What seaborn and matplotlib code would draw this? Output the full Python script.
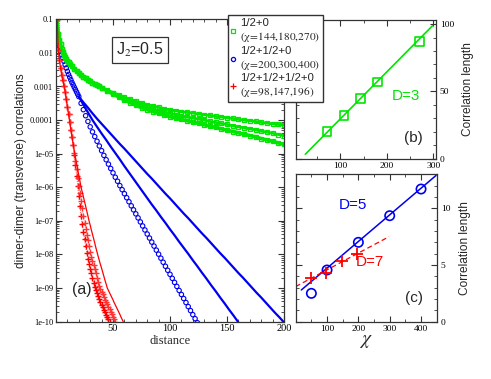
import numpy as np
import matplotlib
matplotlib.use("Agg")
import matplotlib.pyplot as plt
import seaborn as sns
from matplotlib.ticker import FixedLocator, MultipleLocator, LogLocator, NullFormatter
from matplotlib.lines import Line2D

# ---------------- panel (a): log10 of correlations
green_head_d = [1, 2, 3, 4, 5, 6, 7, 8, 9, 10, 11, 12, 14, 16, 18, 20, 22, 24, 26, 28, 30, 32, 34, 36, 38, 40]
green_head = [-1.0, -1.45, -1.62, -1.75, -1.88, -1.98, -2.05, -2.12, -2.18, -2.23, -2.28, -2.32, -2.40, -2.47,
              -2.54, -2.60, -2.66, -2.71, -2.76, -2.81, -2.85, -2.89, -2.93, -2.97, -3.0, -3.03]
green_tail_d = [45, 50, 55, 60, 65, 70, 75, 80, 85, 90, 95, 100, 105, 110, 115, 120, 125, 130, 135, 140,
                145, 150, 155, 160, 165, 170, 175, 180, 185, 190, 195, 200]
green_270 = [-3.11, -3.18, -3.25, -3.32, -3.38, -3.44, -3.49, -3.54, -3.58, -3.62, -3.66, -3.70, -3.72, -3.75,
             -3.77, -3.79, -3.82, -3.84, -3.86, -3.89, -3.91, -3.93, -3.95, -3.98, -4.00, -4.02, -4.04, -4.07,
             -4.09, -4.11, -4.13, -4.15]
green_180 = [-3.12, -3.20, -3.28, -3.36, -3.43, -3.50, -3.56, -3.62, -3.67, -3.72, -3.76, -3.80, -3.84, -3.87,
             -3.91, -3.94, -3.97, -4.00, -4.04, -4.07, -4.10, -4.13, -4.17, -4.20, -4.23, -4.26, -4.29, -4.33,
             -4.36, -4.39, -4.43, -4.46]
green_144 = [-3.13, -3.22, -3.31, -3.40, -3.48, -3.56, -3.63, -3.69, -3.75, -3.80, -3.85, -3.90, -3.94, -3.98,
             -4.02, -4.06, -4.10, -4.14, -4.18, -4.22, -4.26, -4.30, -4.34, -4.38, -4.42, -4.46, -4.50, -4.55,
             -4.59, -4.63, -4.68, -4.72]

blue_head_d = [1, 2, 3, 4, 5, 6, 7, 8, 9, 10, 11, 12, 13, 14, 15, 16, 17, 18, 19, 20]
blue_head = [-1.0, -1.6, -1.8, -1.95, -2.05, -2.15, -2.25, -2.35, -2.45, -2.55, -2.64, -2.72, -2.80, -2.88,
             -2.95, -3.02, -3.09, -3.16, -3.23, -3.30]
blue_200_d = [22, 24, 26, 28, 30, 32, 34, 36, 38, 40, 42, 44, 46, 48, 50, 52, 54, 56, 58, 60, 62, 64, 66, 68,
              70, 72, 74, 76, 78, 80, 82, 84, 86, 88, 90, 92, 94, 96, 98, 100, 102, 104, 106, 108, 110, 112,
              114, 116, 118, 120, 122, 124]
blue_200 = [-3.50, -3.69, -3.87, -4.04, -4.20, -4.35, -4.49, -4.63, -4.77, -4.91, -5.05, -5.18, -5.31, -5.44,
            -5.57, -5.70, -5.82, -5.95, -6.07, -6.19, -6.31, -6.43, -6.55, -6.67, -6.79, -6.91, -7.03, -7.15,
            -7.27, -7.39, -7.51, -7.63, -7.75, -7.87, -7.99, -8.11, -8.23, -8.35, -8.47, -8.59, -8.71, -8.83,
            -8.95, -9.07, -9.19, -9.31, -9.43, -9.55, -9.67, -9.79, -9.91, -10.03]
blue_300_d = [24, 28, 32, 36, 40, 44, 48, 52, 56, 60, 64, 68, 72, 76, 80, 84, 88, 92, 96, 100, 104, 108, 112,
              116, 120, 124, 128, 132, 136, 140, 144, 148, 152, 156, 160]
blue_300 = [-3.54, -3.77, -4.0, -4.2, -4.4, -4.59, -4.79, -4.98, -5.17, -5.37, -5.56, -5.75, -5.94, -6.13,
            -6.32, -6.51, -6.69, -6.88, -7.06, -7.25, -7.43, -7.62, -7.80, -7.98, -8.17, -8.35, -8.54, -8.72,
            -8.91, -9.09, -9.28, -9.46, -9.65, -9.83, -10.02]
blue_400_d = [24, 28, 32, 36, 40, 44, 48, 52, 56, 60, 64, 68, 72, 76, 80, 84, 88, 92, 96, 100, 104, 108, 112,
              116, 120, 124, 128, 132, 136, 140, 144, 148, 152, 156, 160, 164, 168, 172, 176, 180, 184, 188,
              192, 196, 200]
blue_400 = [-3.47, -3.63, -3.8, -3.96, -4.11, -4.26, -4.41, -4.56, -4.71, -4.85, -5.0, -5.15, -5.30, -5.45,
            -5.6, -5.74, -5.89, -6.04, -6.19, -6.33, -6.48, -6.63, -6.78, -6.92, -7.07, -7.22, -7.37, -7.51,
            -7.66, -7.81, -7.96, -8.10, -8.25, -8.40, -8.55, -8.69, -8.84, -8.99, -9.14, -9.28, -9.43, -9.58,
            -9.73, -9.87, -10.02]

red_head_d = [1, 2, 3, 4, 5, 6, 7, 8, 9, 10, 11, 12, 13, 14]
red_head = [-1.0, -1.9, -2.2, -2.45, -2.65, -2.82, -2.98, -3.15, -3.38, -3.6, -3.82, -4.05, -4.28, -4.5]
red_98_d = list(range(15, 48))
red_98 = [-4.75, -5.05, -5.35, -5.65, -5.95, -6.25, -6.55, -6.85, -7.1, -7.32, -7.54, -7.76, -7.97, -8.12,
          -8.27, -8.42, -8.56, -8.7, -8.84, -8.97, -9.07, -9.16, -9.25, -9.33, -9.41, -9.49, -9.57, -9.65,
          -9.72, -9.79, -9.86, -9.93, -10.0]
red_147_d = list(range(15, 53))
red_147 = [-4.73, -4.98, -5.22, -5.47, -5.72, -5.96, -6.18, -6.41, -6.63, -6.85, -7.06, -7.24, -7.41, -7.58,
           -7.75, -7.92, -8.06, -8.19, -8.31, -8.44, -8.56, -8.69, -8.81, -8.94, -9.04, -9.11, -9.19, -9.26,
           -9.34, -9.41, -9.48, -9.56, -9.63, -9.70, -9.78, -9.85, -9.93, -10.0]
red_196_d = list(range(15, 60))
red_196 = [-4.70, -4.9, -5.1, -5.28, -5.46, -5.64, -5.82, -6.0, -6.14, -6.28, -6.42, -6.56, -6.71, -6.85, -7.0,
           -7.13, -7.27, -7.4, -7.53, -7.66, -7.8, -7.93, -8.06, -8.18, -8.3, -8.41, -8.53, -8.65, -8.77,
           -8.88, -9.0, -9.07, -9.14, -9.21, -9.28, -9.35, -9.43, -9.5, -9.57, -9.64, -9.71, -9.78, -9.86,
           -9.93, -10.0]

y_tick_labels = ["1e-10", "1e-09", "1e-08", "1e-07", "1e-06", "1e-05", "0.0001", "0.001", "0.01", "0.1"]
legend_labels = ["1/2+0\n" + r"$\mathrm{(\chi\!=\!144{,}180{,}270)}$",
                 "1/2+1/2+0\n" + r"$\mathrm{(\chi\!=\!200{,}300{,}400)}$",
                 "1/2+1/2+1/2+0\n" + r"$\mathrm{(\chi\!=\!98{,}147{,}196)}$"]

# ---------------- panel (b): D=3
chi_b = [72, 108, 144, 180, 270]
xi_b = [20.1, 32.0, 44.5, 57.0, 86.9]
fit_b_x = [25, 298]
fit_b_y = [3.3, 98.7]

# ---------------- panel (c): D=5 and D=7
chi_c5 = [50, 100, 200, 300, 400]
xi_c5 = [2.5, 4.56, 7.0, 9.35, 11.7]
fit_c5_x = [18, 448]
fit_c5_y = [2.8, 12.9]
chi_c7 = [49, 98, 147, 196]
xi_c7 = [3.83, 4.3, 5.36, 5.97]
fit_c7_x = [0, 298]
fit_c7_y = [3.1, 7.5]

GREEN = "#00e600"
BLUE = "#0000f0"
RED = "#ff0000"
FRAME = "#333333"

sns.set_style("ticks")
plt.rcParams["font.family"] = ["Liberation Sans", "DejaVu Sans"]
plt.rcParams["mathtext.fontset"] = "stix"
plt.rcParams["axes.edgecolor"] = FRAME
plt.rcParams["axes.linewidth"] = 0.9
plt.rcParams["xtick.color"] = FRAME
plt.rcParams["ytick.color"] = FRAME
plt.rcParams["xtick.labelcolor"] = "black"
plt.rcParams["ytick.labelcolor"] = "black"

W, H = 491, 379
fig = plt.figure(figsize=(W / 100, H / 100), dpi=100)


def box(l, t, r, b):
    return [l / W, 1 - b / H, (r - l) / W, (b - t) / H]


ax = fig.add_axes(box(56, 19.3, 284, 321.7))
axb = fig.add_axes(box(296, 20, 435.7, 158.7))
axc = fig.add_axes(box(295.7, 174.3, 436.7, 321.7))


def curve(d, logc, color, **kw):
    sns.lineplot(x=d, y=10.0 ** np.asarray(logc), ax=ax, color=color, estimator=None, sort=False, **kw)


# green
for tail, lw in [(green_270, 2.0), (green_180, 2.0), (green_144, 2.6)]:
    curve(green_head_d + green_tail_d, green_head + tail, GREEN, lw=lw, marker="s", ms=2.6,
          mfc="none", mec=GREEN, mew=0.9)
# blue
sns.scatterplot(x=blue_head_d + blue_200_d, y=10.0 ** np.asarray(blue_head + blue_200), ax=ax,
                marker="o", s=10, facecolor="none", edgecolor=BLUE, linewidth=0.8)
curve(blue_head_d[-1:] + blue_300_d, blue_head[-1:] + blue_300, BLUE, lw=1.6)
curve(blue_head_d[-1:] + blue_400_d, blue_head[-1:] + blue_400, BLUE, lw=1.6)
# red
curve(red_head_d + red_98_d, red_head + red_98, RED, lw=0.6, ls=":", marker="+", ms=3.8, mew=1.0, mec=RED)
curve(red_head_d + red_147_d, red_head + red_147, "#ff5555", lw=0.6, ls=":", marker="+", ms=3.8, mew=1.0,
      mec="#ff3333")
curve(red_head_d + red_196_d, red_head + red_196, RED, lw=0.9)

ax.set_yscale("log")
ax.set_xlim(0, 200)
ax.set_ylim(1e-10, 0.1)
ax.yaxis.set_major_locator(FixedLocator([10.0 ** k for k in range(-10, 0)]))
ax.set_yticklabels(y_tick_labels, family="Liberation Serif", fontsize=6)
ax.yaxis.set_minor_locator(LogLocator(base=10, subs=np.arange(2, 10), numticks=20))
ax.yaxis.set_minor_formatter(NullFormatter())
ax.xaxis.set_major_locator(FixedLocator([50, 100, 150, 200]))
ax.xaxis.set_minor_locator(MultipleLocator(10))
ax.set_xticklabels(["50", "100", "150", "200"], family="Liberation Serif", fontsize=7.5)
ax.tick_params(which="both", direction="in", top=True, right=True)
ax.tick_params(which="major", length=4, width=0.8, pad=2)
ax.tick_params(which="minor", length=2, width=0.6)
ax.set_xlabel("distance", family="Liberation Serif", fontsize=9, labelpad=1)
ax.set_ylabel("dimer-dimer (transverse) correlations", fontsize=8.6, labelpad=2)
ax.text(0.113, 0.108, "(a)", transform=ax.transAxes, fontsize=11.5, ha="center", va="center")
ax.text(0.368, 0.898, r"J$_2$=0.5", transform=ax.transAxes, fontsize=11.5, ha="center", va="center",
        bbox=dict(boxstyle="square,pad=0.25", fc="white", ec=FRAME, lw=0.9))

# panel (b)
sns.lineplot(x=fit_b_x, y=fit_b_y, ax=axb, color=GREEN, lw=1.2)
sns.scatterplot(x=chi_b, y=xi_b, ax=axb, marker="s", s=38, facecolor="none", edgecolor=GREEN, linewidth=1.2,
                zorder=3)
axb.set_xlim(5, 305)
axb.set_ylim(0, 103)
axb.xaxis.set_major_locator(FixedLocator([100, 200, 300]))
axb.xaxis.set_minor_locator(MultipleLocator(50))
axb.yaxis.set_major_locator(FixedLocator([0, 50, 100]))
axb.yaxis.set_minor_locator(MultipleLocator(10))
axb.text(0.79, 0.452, "D=3", transform=axb.transAxes, color=GREEN, fontsize=11, ha="center", va="center")
axb.text(0.843, 0.151, "(b)", transform=axb.transAxes, fontsize=11, ha="center", va="center")

# panel (c)
sns.lineplot(x=fit_c5_x, y=fit_c5_y, ax=axc, color=BLUE, lw=1.1)
sns.lineplot(x=fit_c7_x, y=fit_c7_y, ax=axc, color=RED, lw=0.9, dashes=False, ls=(0, (4, 2.5)))
sns.scatterplot(x=chi_c5, y=xi_c5, ax=axc, marker="o", s=45, facecolor="none", edgecolor=BLUE, linewidth=1.2,
                zorder=3)
sns.scatterplot(x=chi_c7, y=xi_c7, ax=axc, marker="+", s=70, color=RED, linewidth=1.3, zorder=3)
axc.set_xlim(0, 450)
axc.set_ylim(0, 13)
axc.xaxis.set_major_locator(FixedLocator([100, 200, 300, 400]))
axc.xaxis.set_minor_locator(MultipleLocator(50))
axc.yaxis.set_major_locator(FixedLocator([0, 5, 10]))
axc.yaxis.set_minor_locator(MultipleLocator(1))
axc.set_xlabel(r"$\chi$", fontsize=14, labelpad=0)
axc.text(0.409, 0.792, "D=5", transform=axc.transAxes, color=BLUE, fontsize=11, ha="center", va="center")
axc.text(0.527, 0.405, "D=7", transform=axc.transAxes, color=RED, fontsize=11, ha="center", va="center")
axc.text(0.841, 0.164, "(c)", transform=axc.transAxes, fontsize=11, ha="center", va="center")

for a in (axb, axc):
    a.yaxis.set_label_position("right")
    a.set_ylabel("Correlation length", fontsize=8.6, labelpad=6)
    a.tick_params(which="both", direction="in", top=True, right=True, left=True, bottom=True,
                  labelleft=False, labelright=True)
    a.tick_params(which="major", length=4, width=0.8)
    a.tick_params(which="minor", length=2, width=0.6)
    a.tick_params(axis="y", pad=3)
    a.tick_params(axis="x", pad=2.5)
    for lab in a.get_xticklabels() + a.get_yticklabels():
        lab.set_family("Liberation Serif")
        lab.set_fontsize(6.8)

# legend, drawn above the panels
handles = [Line2D([], [], ls="none", marker="s", ms=3, mfc="none", mec=GREEN, mew=0.9),
           Line2D([], [], ls="none", marker="o", ms=3, mfc="none", mec=BLUE, mew=0.9),
           Line2D([], [], ls="none", marker="+", ms=4, color=RED, mew=0.9)]
fig.legend(handles, legend_labels, loc="upper left", bbox_to_anchor=(227.7 / W, 1 - 15 / H),
           fontsize=8.2, frameon=True, fancybox=False, edgecolor=FRAME, framealpha=1,
           handlelength=0.4, handletextpad=0.35, borderpad=0.3, labelspacing=0.1, borderaxespad=0)

fig.savefig("out.png", dpi=100)
